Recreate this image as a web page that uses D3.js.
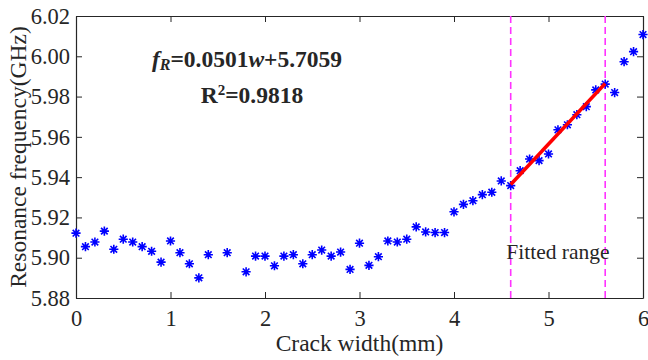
<!DOCTYPE html>
<html>
<head>
<meta charset="utf-8">
<script src="https://cdn.jsdelivr.net/npm/d3@7"></script>
<style>
  body { margin: 0; background: #fff; }
  text { font-family: "Liberation Serif", "Times New Roman", serif; fill: #262626; }
</style>
</head>
<body>
<svg id="chart" width="648" height="360"></svg>
<script>
// crack width (mm) and measured resonance frequency (GHz)
const widths = [0, 0.1, 0.2, 0.3, 0.4, 0.5, 0.6, 0.7, 0.8, 0.9,
  1.0, 1.1, 1.2, 1.3, 1.4, 1.6, 1.8, 1.9,
  2.0, 2.1, 2.2, 2.3, 2.4, 2.5, 2.6, 2.7, 2.8, 2.9,
  3.0, 3.1, 3.2, 3.3, 3.4, 3.5, 3.6, 3.7, 3.8, 3.9,
  4.0, 4.1, 4.2, 4.3, 4.4, 4.5, 4.6, 4.7, 4.8, 4.9,
  5.0, 5.1, 5.2, 5.3, 5.4, 5.5, 5.6, 5.7, 5.8, 5.9, 6.0];
const freqs = [5.9122, 5.9055, 5.9078, 5.9132, 5.9042, 5.9092, 5.9078, 5.9055, 5.9032, 5.8978,
  5.9083, 5.9025, 5.8970, 5.8900, 5.9015, 5.9025, 5.8930, 5.9008,
  5.9008, 5.8960, 5.9008, 5.9015, 5.8970, 5.9015, 5.9038, 5.9008, 5.9028, 5.8942,
  5.9072, 5.8962, 5.9005, 5.9083, 5.9078, 5.9092, 5.9153, 5.9128, 5.9125, 5.9125,
  5.9228, 5.9265, 5.9283, 5.9313, 5.9325, 5.9381, 5.9358, 5.9432, 5.9490, 5.9482,
  5.9515, 5.9635, 5.9660, 5.9710, 5.9750, 5.9833, 5.9862, 5.9820, 5.9973, 6.0023, 6.0108];

const fitRange = [4.6, 5.6];
const slope = 0.0501, intercept = 5.7059;

const xTicks = [0, 1, 2, 3, 4, 5, 6];
const yTicks = [5.88, 5.90, 5.92, 5.94, 5.96, 5.98, 6.00, 6.02];

const margin = { top: 16, right: 5, bottom: 62, left: 76 };
const width = 648, height = 360;
const iw = width - margin.left - margin.right;
const ih = height - margin.top - margin.bottom;

const svg = d3.select('#chart');
const g = svg.append('g').attr('transform', `translate(${margin.left},${margin.top})`);

const x = d3.scaleLinear().domain([0, 6]).range([0, iw]);
const y = d3.scaleLinear().domain([5.88, 6.02]).range([ih, 0]);

// axes with inward ticks, box all round
const tk = 6;
g.append('g').attr('transform', `translate(0,${ih})`)
  .call(d3.axisBottom(x).tickValues(xTicks).tickSizeInner(-tk).tickSizeOuter(0).tickPadding(12).tickFormat(d3.format('d')));
g.append('g')
  .call(d3.axisTop(x).tickValues(xTicks).tickSizeInner(-tk).tickSizeOuter(0).tickFormat(''));
g.append('g')
  .call(d3.axisLeft(y).tickValues(yTicks).tickSizeInner(-tk).tickSizeOuter(0).tickPadding(6).tickFormat(d3.format('.2f')));
g.append('g').attr('transform', `translate(${iw},0)`)
  .call(d3.axisRight(y).tickValues(yTicks).tickSizeInner(-tk).tickSizeOuter(0).tickFormat(''));

g.selectAll('.domain').attr('stroke', '#262626').attr('stroke-width', 1.2);
g.selectAll('.tick line').attr('stroke', '#262626').attr('stroke-width', 1);
g.selectAll('.tick text').attr('font-size', 22.5).attr('fill', '#262626')
  .attr('font-family', '"Liberation Serif", serif');

// fitted range borders
g.selectAll('.range').data(fitRange).enter().append('line')
  .attr('x1', d => x(d)).attr('x2', d => x(d))
  .attr('y1', 0).attr('y2', ih)
  .attr('stroke', '#ff33ff').attr('stroke-width', 1.6)
  .attr('stroke-dasharray', '7,4');

// asterisk markers
const pts = widths.map((w, i) => ({ w, f: freqs[i] }));
const r = 4.6, rd = r * 0.72;
const star = `M${-r},0L${r},0M0,${-r}L0,${r}M${-rd},${-rd}L${rd},${rd}M${-rd},${rd}L${rd},${-rd}`;
g.append('g').selectAll('path').data(pts).enter().append('path')
  .attr('transform', d => `translate(${x(d.w)},${y(d.f)})`)
  .attr('d', star)
  .attr('fill', 'none').attr('stroke', '#0000ff').attr('stroke-width', 1.6);

// linear fit
const fitPts = fitRange.map(w => ({ w, f: slope * w + intercept }));
g.append('path').datum(fitPts)
  .attr('d', d3.line().x(d => x(d.w)).y(d => y(d.f)))
  .attr('stroke', '#ff0000').attr('stroke-width', 3.5).attr('fill', 'none');

// annotations
const eq = g.append('text').attr('x', 171).attr('y', 51)
  .attr('text-anchor', 'middle').attr('font-size', 23.5).attr('font-weight', 'bold').attr('fill', '#000');
eq.append('tspan').attr('font-style', 'italic').text('f');
eq.append('tspan').attr('font-style', 'italic').attr('font-size', 16).attr('dy', 3).text('R');
eq.append('tspan').attr('dy', -3).text('=0.0501');
eq.append('tspan').attr('font-style', 'italic').text('w');
eq.append('tspan').text('+5.7059');

const r2 = g.append('text').attr('x', 176).attr('y', 87)
  .attr('text-anchor', 'middle').attr('font-size', 23.5).attr('font-weight', 'bold').attr('fill', '#000');
r2.append('tspan').text('R');
r2.append('tspan').attr('font-size', 15).attr('dy', -8).text('2');
r2.append('tspan').attr('dy', 8).text('=0.9818');

g.append('text').attr('x', (x(fitRange[0]) + x(fitRange[1])) / 2).attr('y', 243)
  .attr('text-anchor', 'middle').attr('font-size', 21.5).attr('fill', '#000')
  .text('Fitted range');

// axis titles
svg.append('text').attr('x', margin.left + iw / 2).attr('y', 351)
  .attr('text-anchor', 'middle').attr('font-size', 23.5)
  .text('Crack width(mm)');
svg.append('text')
  .attr('transform', `translate(26,${margin.top + ih / 2}) rotate(-90)`)
  .attr('text-anchor', 'middle').attr('font-size', 23.5)
  .text('Resonance frequency(GHz)');
</script>
</body>
</html>
